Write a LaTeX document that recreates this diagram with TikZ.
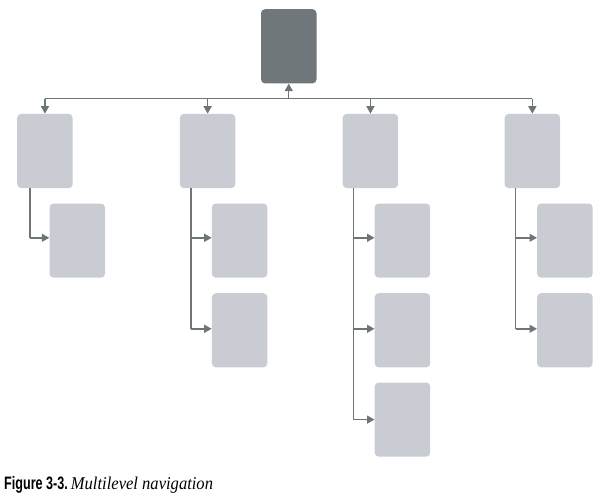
\documentclass[tikz,border=0pt]{standalone}
\usepackage{fontspec}
\newfontfamily\capsans{Liberation Sans}
\newfontfamily\capserif{Liberation Serif}
\usetikzlibrary{arrows.meta}
\definecolor{linegray}{HTML}{6E7578}
\definecolor{topgray}{HTML}{70777A}
\definecolor{boxgray}{HTML}{C9CCD3}
\begin{document}
\begin{tikzpicture}[x=1pt,y=-1pt,
  pagebox/.style={rectangle,rounded corners=4pt,draw=none,fill=boxgray,
    minimum width=55.5pt,minimum height=74.2pt,inner sep=0pt,anchor=north west},
  topbox/.style={pagebox,fill=topgray},
  conn/.style={draw=linegray,line width=1.4pt},
  arr/.style={conn,-{Triangle[width=8pt,length=7.5pt]}}]
\useasboundingbox (0,0) rectangle (605,500);
% top
\node[topbox] (top) at (260.8,9) {};
% level 1
\node[pagebox] (a1) at (17,113.7) {};
\node[pagebox] (a2) at (179.7,113.7) {};
\node[pagebox] (a3) at (342.5,113.7) {};
\node[pagebox] (a4) at (504.4,113.7) {};
% children
\node[pagebox] (c11) at (49.3,203.3) {};
\node[pagebox] (c21) at (211.7,203.3) {};
\node[pagebox] (c22) at (211.7,293) {};
\node[pagebox] (c31) at (374.5,203.3) {};
\node[pagebox] (c32) at (374.5,293) {};
\node[pagebox] (c33) at (374.5,382.3) {};
\node[pagebox] (c41) at (537,203.3) {};
\node[pagebox] (c42) at (537,293) {};
% bus
\coordinate (bus) at (288.5,98.7);
\draw[conn] (a1.north |- bus) -- (a4.north |- bus);
\draw[arr] (top.south |- bus) -- (top.south);
\foreach \n in {a1,a2,a3,a4}{\draw[arr] (\n.north |- bus) -- (\n.north);}
% column connectors
\coordinate (v1) at (30,0);
\coordinate (v2) at (191,0);
\coordinate (v3) at (353.3,0);
\coordinate (v4) at (515.7,0);
\draw[conn] (v1 |- a1.south) -- ([yshift=2.8pt]v1 |- c11.west);
\draw[arr] ([yshift=2.8pt]v1 |- c11.west) -- ([yshift=2.8pt]c11.west);
\draw[conn] (v2 |- a2.south) -- ([yshift=1.5pt]v2 |- c22.west);
\draw[arr] ([yshift=2.8pt]v2 |- c21.west) -- ([yshift=2.8pt]c21.west);
\draw[arr] ([yshift=1.5pt]v2 |- c22.west) -- ([yshift=1.5pt]c22.west);
\draw[conn] (v3 |- a3.south) -- (v3 |- c33.west);
\draw[arr] ([yshift=2.8pt]v3 |- c31.west) -- ([yshift=2.8pt]c31.west);
\draw[arr] ([yshift=1.5pt]v3 |- c32.west) -- ([yshift=1.5pt]c32.west);
\draw[arr] (v3 |- c33.west) -- (c33.west);
\draw[conn] (v4 |- a4.south) -- ([yshift=1.5pt]v4 |- c42.west);
\draw[arr] ([yshift=2.8pt]v4 |- c41.west) -- ([yshift=2.8pt]c41.west);
\draw[arr] ([yshift=1.5pt]v4 |- c42.west) -- ([yshift=1.5pt]c42.west);
% caption
\node[anchor=base west,inner sep=0pt] (cap) at (4,489.3)
  {\scalebox{0.70}[1]{\capsans\fontsize{18}{20}\selectfont\bfseries Figure 3-3.}\hspace{3pt}\scalebox{0.92}[1]{\capserif\fontsize{18}{20}\selectfont\itshape Multilevel navigation}};
\end{tikzpicture}
\end{document}
